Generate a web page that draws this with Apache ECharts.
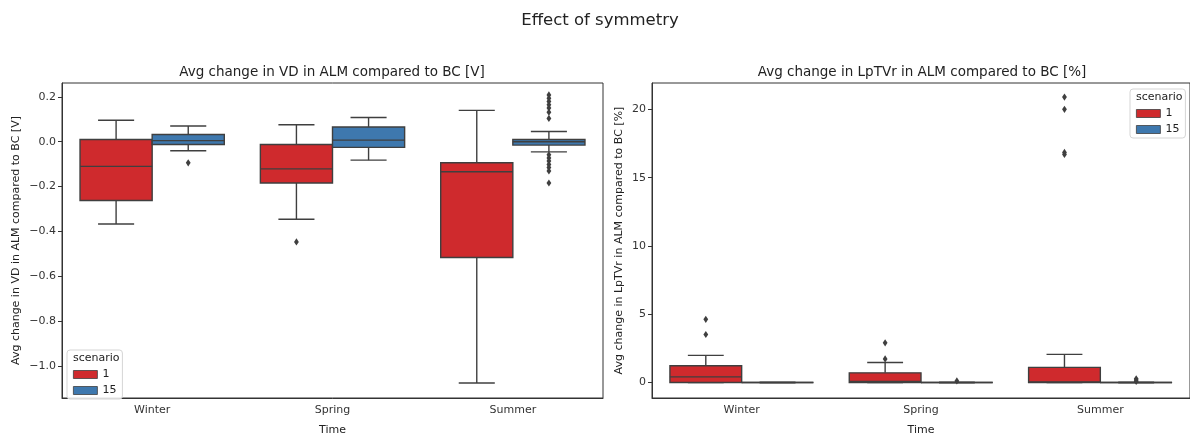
<!DOCTYPE html>
<html>
<head>
<meta charset="utf-8">
<script src="https://cdn.jsdelivr.net/npm/echarts@6/dist/echarts.min.js"></script>
<style>html,body{margin:0;padding:0;background:#fff}#c{width:1190px;height:441px}</style>
</head>
<body>
<div id="c"></div>
<script>
// ---- data ----
const categories = ['Winter', 'Spring', 'Summer'];
const scenarioNames = ['1', '15'];
// box stats: [lowWhisker, Q1, median, Q3, highWhisker]
const vdScen1 = [[-0.367, -0.262, -0.110, 0.010, 0.096], [-0.346, -0.184, -0.121, -0.012, 0.076], [-1.076, -0.516, -0.134, -0.094, 0.140]];
const vdScen15 = [[-0.040, -0.012, 0.005, 0.032, 0.070], [-0.082, -0.025, 0.007, 0.066, 0.108], [-0.045, -0.015, 0.000, 0.010, 0.046]];
// outliers: [categoryIndex, value]
const vdOut1 = [[1, -0.447]];
const vdOut15 = [[0, -0.094], [2, 0.209], [2, 0.194], [2, 0.180], [2, 0.165], [2, 0.151], [2, 0.132], [2, 0.104],
  [2, -0.058], [2, -0.072], [2, -0.086], [2, -0.101], [2, -0.115], [2, -0.130], [2, -0.184]];
const lpScen1 = [[0, 0, 0.42, 1.23, 1.99], [0, 0, 0.08, 0.71, 1.47], [0, 0, 0.05, 1.11, 2.06]];
const lpScen15 = [[0, 0, 0, 0, 0], [0, 0, 0, 0, 0], [0, 0, 0, 0, 0]];
const lpOut1 = [[0, 4.63], [0, 3.52], [1, 2.91], [1, 1.73], [2, 20.9], [2, 20.0], [2, 16.85], [2, 16.7]];
const lpOut15 = [[1, 0.12], [2, 0.28], [2, 0.18], [2, 0.08]];
const vdTicks = [-1.0, -0.8, -0.6, -0.4, -0.2, 0.0, 0.2];
const lpTicks = [0, 5, 10, 15, 20];

// ---- styling ----
const FONT = 'DejaVu Sans';
const RED = '#cf2a2d';
const BLUE = '#3e78ae';
const EDGE = '#3f3f3f';

function boxRender(hue) {
  return function (params, api) {
    const cat = api.value(0);
    const band = api.size([1, 0])[0];
    const w = band * 0.4;
    const base = api.coord([cat, 0])[0];
    const cx = base + (hue === 0 ? -w / 2 : w / 2);
    const y = i => api.coord([cat, api.value(i)])[1];
    const lo = y(1), q1 = y(2), med = y(3), q3 = y(4), hi = y(5);
    const cw = w / 4;
    const st = { stroke: EDGE, lineWidth: 1.4 };
    return {
      type: 'group', children: [
        { type: 'line', shape: { x1: cx, y1: q1, x2: cx, y2: lo }, style: st },
        { type: 'line', shape: { x1: cx, y1: q3, x2: cx, y2: hi }, style: st },
        { type: 'line', shape: { x1: cx - cw, y1: lo, x2: cx + cw, y2: lo }, style: st },
        { type: 'line', shape: { x1: cx - cw, y1: hi, x2: cx + cw, y2: hi }, style: st },
        { type: 'rect', shape: { x: cx - w / 2, y: q3, width: w, height: q1 - q3 }, style: { fill: api.visual('color'), stroke: EDGE, lineWidth: 1.4 } },
        { type: 'line', shape: { x1: cx - w / 2, y1: med, x2: cx + w / 2, y2: med }, style: st }
      ]
    };
  };
}
function outRender(hue) {
  return function (params, api) {
    const cat = api.value(0);
    const band = api.size([1, 0])[0];
    const w = band * 0.4;
    const p = api.coord([cat, api.value(1)]);
    const cx = p[0] + (hue === 0 ? -w / 2 : w / 2);
    const cy = p[1];
    return { type: 'polygon', shape: { points: [[cx, cy - 3.6], [cx + 2.4, cy], [cx, cy + 3.6], [cx - 2.4, cy]] }, style: { fill: EDGE } };
  };
}
function boxData(arr) { return arr.map((s, i) => [i].concat(s)); }

function xAxis(gi) {
  return {
    type: 'category', gridIndex: gi, data: categories,
    name: 'Time', nameLocation: 'middle', nameGap: 27,
    nameTextStyle: { fontFamily: FONT, fontSize: 11, color: '#222' },
    axisLine: { onZero: false, lineStyle: { color: '#333', width: 1 } },
    axisTick: { alignWithLabel: true, length: 4, lineStyle: { color: '#333' } },
    axisLabel: { fontFamily: FONT, fontSize: 11, color: '#333', margin: 7 },
    splitLine: { show: false }
  };
}
function yAxis(gi, min, max, ticks, name, gap, fmt) {
  return {
    type: 'value', gridIndex: gi, min: min, max: max,
    name: name, nameLocation: 'middle', nameGap: gap,
    nameTextStyle: { fontFamily: FONT, fontSize: 11, color: '#222' },
    axisLine: { show: true, onZero: false, lineStyle: { color: '#333', width: 1 } },
    axisTick: { show: true, length: 4, customValues: ticks, lineStyle: { color: '#333' } },
    axisLabel: { fontFamily: FONT, fontSize: 11, color: '#333', margin: 6, customValues: ticks, formatter: fmt },
    splitLine: { show: false }
  };
}
function legend(left, top) {
  return {
    left: left, top: top, orient: 'vertical', data: scenarioNames,
    icon: 'rect', itemWidth: 24, itemHeight: 8, itemGap: 5,
    padding: [19, 6, 3, 6],
    borderColor: '#d5d5d5', borderWidth: 1, borderRadius: 3,
    backgroundColor: 'rgba(255,255,255,0.85)',
    itemStyle: { borderColor: EDGE, borderWidth: 0.8 },
    textStyle: { fontFamily: FONT, fontSize: 11, color: '#222' },
    selectedMode: false
  };
}

const vdFmt = v => (Math.abs(v) < 1e-9 ? '0.0' : v.toFixed(1).replace('-', '\u2212'));
const lpFmt = v => String(v);

const option = {
  animation: false,
  backgroundColor: '#fff',
  grid: [
    { left: 62, top: 83, width: 541, height: 325, show: true, borderColor: '#333', borderWidth: 1 },
    { left: 652, top: 83, width: 540, height: 325, show: true, borderColor: '#333', borderWidth: 1 }
  ],
  xAxis: [xAxis(0), xAxis(1)],
  yAxis: [
    yAxis(0, -1.143, 0.262, vdTicks, 'Avg change in VD in ALM compared to BC [V]', 40, vdFmt),
    yAxis(1, -1.13, 21.93, lpTicks, 'Avg change in LpTVr in ALM compared to BC [%]', 27, lpFmt)
  ],
  legend: [legend(67, 350), legend(1130, 89)],
  graphic: [
    { type: 'text', x: 600, y: 21, style: { text: 'Effect of symmetry', align: 'center', verticalAlign: 'middle', fontFamily: FONT, fontSize: 16.5, fill: '#222' } },
    { type: 'text', x: 332, y: 72, style: { text: 'Avg change in VD in ALM compared to BC [V]', align: 'center', verticalAlign: 'middle', fontFamily: FONT, fontSize: 13.5, fill: '#222' } },
    { type: 'text', x: 922, y: 72, style: { text: 'Avg change in LpTVr in ALM compared to BC [%]', align: 'center', verticalAlign: 'middle', fontFamily: FONT, fontSize: 13.5, fill: '#222' } },
    { type: 'text', x: 73, y: 358, z: 100, style: { text: 'scenario', align: 'left', verticalAlign: 'middle', fontFamily: FONT, fontSize: 11, fill: '#222' } },
    { type: 'text', x: 1136, y: 97, z: 100, style: { text: 'scenario', align: 'left', verticalAlign: 'middle', fontFamily: FONT, fontSize: 11, fill: '#222' } }
  ],
  series: [
    { type: 'custom', name: '1', xAxisIndex: 0, yAxisIndex: 0, itemStyle: { color: RED }, renderItem: boxRender(0), encode: { x: 0, y: [1, 2, 3, 4, 5] }, data: boxData(vdScen1) },
    { type: 'custom', name: '15', xAxisIndex: 0, yAxisIndex: 0, itemStyle: { color: BLUE }, renderItem: boxRender(1), encode: { x: 0, y: [1, 2, 3, 4, 5] }, data: boxData(vdScen15) },
    { type: 'custom', name: 'out1a', xAxisIndex: 0, yAxisIndex: 0, renderItem: outRender(0), encode: { x: 0, y: 1 }, data: vdOut1 },
    { type: 'custom', name: 'out15a', xAxisIndex: 0, yAxisIndex: 0, renderItem: outRender(1), encode: { x: 0, y: 1 }, data: vdOut15 },
    { type: 'custom', name: '1', xAxisIndex: 1, yAxisIndex: 1, itemStyle: { color: RED }, renderItem: boxRender(0), encode: { x: 0, y: [1, 2, 3, 4, 5] }, data: boxData(lpScen1) },
    { type: 'custom', name: '15', xAxisIndex: 1, yAxisIndex: 1, itemStyle: { color: BLUE }, renderItem: boxRender(1), encode: { x: 0, y: [1, 2, 3, 4, 5] }, data: boxData(lpScen15) },
    { type: 'custom', name: 'out1b', xAxisIndex: 1, yAxisIndex: 1, renderItem: outRender(0), encode: { x: 0, y: 1 }, data: lpOut1 },
    { type: 'custom', name: 'out15b', xAxisIndex: 1, yAxisIndex: 1, renderItem: outRender(1), encode: { x: 0, y: 1 }, data: lpOut15 }
  ]
};
const chart = echarts.init(document.getElementById('c'), null, { renderer: 'canvas' });
chart.setOption(option);
</script>
</body>
</html>
